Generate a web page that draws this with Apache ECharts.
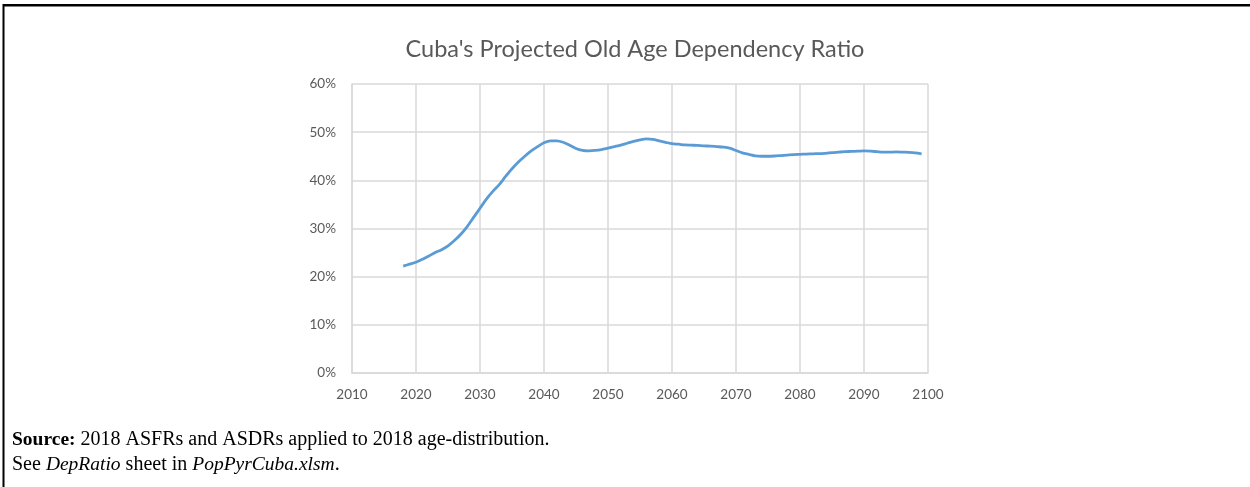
<!DOCTYPE html>
<html>
<head>
<meta charset="utf-8">
<script src="https://cdn.jsdelivr.net/npm/echarts@6/dist/echarts.min.js"></script>
<style>
  html, body { margin: 0; padding: 0; background: #fff; }
  #chart { width: 1250px; height: 487px; }
</style>
</head>
<body>
<div id="chart"></div>
<script>
// Projected old-age dependency ratio (%), one value per year
const years = [
  2018, 2019, 2020, 2021, 2022, 2023, 2024, 2025, 2026, 2027,
  2028, 2029, 2030, 2031, 2032, 2033, 2034, 2035, 2036, 2037,
  2038, 2039, 2040, 2041, 2042, 2043, 2044, 2045, 2046, 2047,
  2048, 2049, 2050, 2051, 2052, 2053, 2054, 2055, 2056, 2057,
  2058, 2059, 2060, 2061, 2062, 2063, 2064, 2065, 2066, 2067,
  2068, 2069, 2070, 2071, 2072, 2073, 2074, 2075, 2076, 2077,
  2078, 2079, 2080, 2081, 2082, 2083, 2084, 2085, 2086, 2087,
  2088, 2089, 2090, 2091, 2092, 2093, 2094, 2095, 2096, 2097,
  2098, 2099
];
const ratio = [
  22.2, 22.6, 23.0, 23.6, 24.3, 25.0, 25.6, 26.4, 27.5, 28.8,
  30.4, 32.3, 34.2, 36.1, 37.7, 39.1, 40.8, 42.4, 43.8, 45.0,
  46.1, 47.0, 47.8, 48.2, 48.2, 47.9, 47.3, 46.6, 46.2, 46.1,
  46.2, 46.4, 46.7, 47.0, 47.3, 47.7, 48.1, 48.4, 48.6, 48.5,
  48.2, 47.9, 47.6, 47.5, 47.35, 47.3, 47.25, 47.15, 47.1, 47.0,
  46.9, 46.7, 46.2, 45.7, 45.4, 45.1, 45.0, 45.0, 45.05, 45.15,
  45.25, 45.35, 45.4, 45.45, 45.5, 45.55, 45.6, 45.75, 45.85, 45.95,
  46.0, 46.05, 46.1, 46.05, 45.95, 45.85, 45.85, 45.9, 45.85, 45.8,
  45.7, 45.5
];
const xTicks = { min: 2010, max: 2100, step: 10 };
const yTicks = { min: 0, max: 60, step: 10 };

const titleText = "Cuba's Projected Old Age Dependency Ratio";

const chart = echarts.init(document.getElementById('chart'), null, { renderer: 'canvas' });

const labelFont = 'Lato, "Open Sans", sans-serif';
const serifFont = '"Liberation Serif", serif';
const gridGray = '#d9d9d9';

chart.setOption({
  animation: false,
  backgroundColor: '#ffffff',
  title: {
    text: titleText,
    left: 630,
    top: 32,
    textAlign: 'center',
    textStyle: {
      fontFamily: labelFont,
      fontSize: 23.5,
      fontWeight: 'normal',
      color: '#595959'
    }
  },
  grid: { left: 352, right: 322, top: 84, bottom: 114, containLabel: false },
  xAxis: {
    type: 'value',
    min: xTicks.min,
    max: xTicks.max,
    interval: xTicks.step,
    axisLine: { show: true, lineStyle: { color: gridGray, width: 1.5 } },
    axisTick: { show: false },
    splitLine: { show: true, lineStyle: { color: gridGray, width: 1.5 } },
    axisLabel: {
      fontFamily: labelFont,
      fontSize: 13.5,
      color: '#595959',
      margin: 15,
      formatter: v => String(v)
    }
  },
  yAxis: {
    type: 'value',
    min: yTicks.min,
    max: yTicks.max,
    interval: yTicks.step,
    axisLine: { show: true, lineStyle: { color: gridGray, width: 1.5 } },
    axisTick: { show: false },
    splitLine: { show: true, lineStyle: { color: gridGray, width: 1.5 } },
    axisLabel: {
      fontFamily: labelFont,
      fontSize: 13.5,
      color: '#595959',
      margin: 16,
      formatter: v => v + '%'
    }
  },
  series: [{
    type: 'line',
    data: years.map((y, i) => [y, ratio[i]]),
    showSymbol: false,
    smooth: 0.3,
    lineStyle: { color: '#5b9bd5', width: 2.8 },
    z: 5
  }],
  graphic: [
    // frame lines along the top and left edges
    { type: 'rect', shape: { x: 3, y: 4, width: 1247, height: 2.5 }, style: { fill: '#000' } },
    { type: 'rect', shape: { x: 2.5, y: 4, width: 2, height: 483 }, style: { fill: '#000' } },
    {
      type: 'text',
      left: 12,
      top: 427,
      style: {
        text: '{b|Source:} 2018 ASFRs and ASDRs applied to 2018 age-distribution.\nSee {i|DepRatio} sheet in {i|PopPyrCuba.xlsm}.',
        fontFamily: serifFont,
        fontSize: 20,
        lineHeight: 25,
        fill: '#000',
        rich: {
          b: { fontFamily: serifFont, fontSize: 19.5, fontWeight: 'bold', fill: '#000', lineHeight: 25 },
          i: { fontFamily: serifFont, fontSize: 19.5, fontStyle: 'italic', fill: '#000', lineHeight: 25 }
        }
      }
    }
  ]
});
</script>
</body>
</html>
